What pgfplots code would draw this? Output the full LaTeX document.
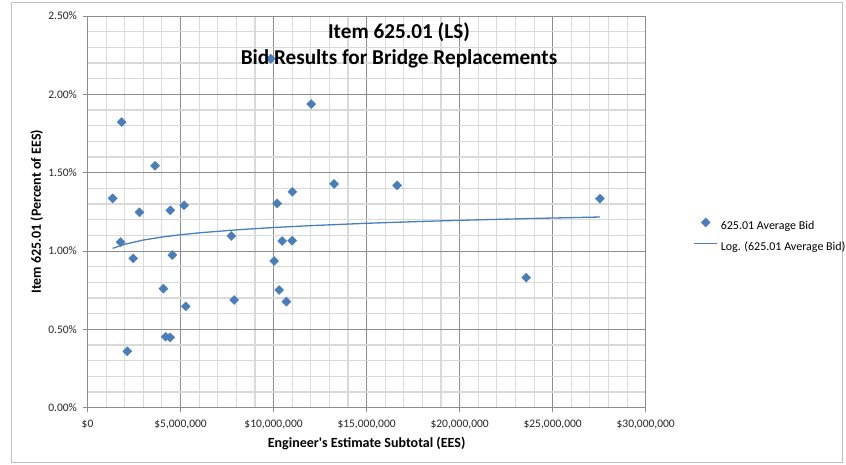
\documentclass[border=0pt]{standalone}
\usepackage{pgfplots}
\pgfplotsset{compat=1.18}
\usepackage{fontspec}
\setmainfont{Carlito}
\definecolor{bidblue}{HTML}{4A7EBB}
\definecolor{minorgrid}{HTML}{D9D9D9}
\definecolor{majorgrid}{HTML}{8C8C8C}
\definecolor{framegray}{HTML}{C0C0C0}

% average bid (% of EES) vs engineer's estimate subtotal ($ millions)
\pgfplotstableread{
x y
1.35 1.336
1.84 1.823
1.78 1.057
2.14 0.360
2.46 0.953
2.79 1.247
3.63 1.544
4.08 0.760
4.20 0.453
4.44 0.449
4.45 1.260
4.56 0.974
5.19 1.292
5.28 0.647
7.73 1.096
7.88 0.687
9.85 2.227
10.03 0.936
10.19 1.304
10.30 0.751
10.46 1.064
10.69 0.677
11.00 1.066
11.01 1.378
12.02 1.938
13.25 1.428
16.64 1.419
23.58 0.830
27.54 1.334
}\bids

% log trend line
\pgfplotstableread{
x y
1.35 1.017
2 1.043
3 1.070
4 1.089
5 1.104
6 1.116
8 1.135
10 1.150
12 1.162
15 1.177
18 1.189
21 1.199
24 1.208
27.54 1.217
}\trend

\begin{document}
\begin{tikzpicture}
\path[use as bounding box] (-87.5pt,-57.3pt) rectangle (758.5pt,407.7pt);
\draw[framegray, line width=1.5pt] (-75.8pt,-54.6pt) -- (754.8pt,-54.6pt) -- (754.8pt,405pt) -- (-75.8pt,405pt) -- cycle;
\begin{axis}[
  at={(0pt,0pt)}, anchor=south west,
  scale only axis, width=558.2pt, height=391.7pt,
  xmin=0, xmax=30, ymin=0, ymax=2.5,
  xtick={0,5,10,15,20,25,30},
  xticklabels={{\$0},{\$5,000,000},{\$10,000,000},{\$15,000,000},{\$20,000,000},{\$25,000,000},{\$30,000,000}},
  ytick={0,0.5,1,1.5,2,2.5},
  yticklabels={0.00\%,0.50\%,1.00\%,1.50\%,2.00\%,2.50\%},
  minor xtick={0,1,...,30},
  minor ytick={0,0.1,0.2,0.3,0.4,0.6,0.7,0.8,0.9,1.1,1.2,1.3,1.4,1.6,1.7,1.8,1.9,2.1,2.2,2.3,2.4},
  xmajorgrids=true, ymajorgrids=true, xminorgrids=true, yminorgrids=true,
  major grid style={majorgrid, line width=0.8pt},
  minor grid style={minorgrid, line width=1.1pt},
  axis line style={majorgrid, line width=0.8pt},
  tick align=outside, major tick length=4pt,
  minor tick style={draw=none},
  tick pos=left,
  major tick style={majorgrid, line width=0.8pt},
  every tick label/.append style={font=\fontsize{11.5}{13}\selectfont, text=black!85},
  xticklabel style={yshift=-5pt},
  yticklabel style={xshift=-3pt},
  xlabel={Engineer\textquotesingle s Estimate Subtotal (EES)},
  ylabel={Item 625.01 (Percent of EES)},
  label style={font=\bfseries\fontsize{14}{16}\selectfont},
  xlabel style={at={(axis description cs:0.5,-0.0905)}, anchor=center},
  ylabel style={at={(axis description cs:-0.0910,0.5)}, anchor=center},
  legend style={at={(1.0853,0.4851)}, anchor=north west, draw=none, fill=none,
    inner sep=0pt, row sep=9.3pt,
    nodes={inner sep=0pt, text height=9pt, text depth=3pt,
      font=\fontsize{12}{14}\selectfont},
    /tikz/every odd column/.append style={column sep=3pt}},
  legend cell align=left,
  legend image code/.code={\draw[mark repeat=2,mark phase=2,#1] plot coordinates {(0pt,3.7pt) (11.5pt,3.7pt) (23pt,3.7pt)};},
]
\addplot[only marks, mark=square*, mark size=3.2pt,
  mark options={rotate=45, fill=bidblue, draw=bidblue}] table {\bids};
\addlegendentry{625.01 Average Bid}
\addplot[bidblue, line width=1.3pt, no marks] table {\trend};
\addlegendentry{Log. (625.01 Average Bid)}
\end{axis}
\node[font=\bfseries\fontsize{21.2}{25.6}\selectfont, align=center] at (311.5pt,362pt)
  {Item 625.01 (LS)\\Bid Results for Bridge Replacements};
\end{tikzpicture}
\end{document}
